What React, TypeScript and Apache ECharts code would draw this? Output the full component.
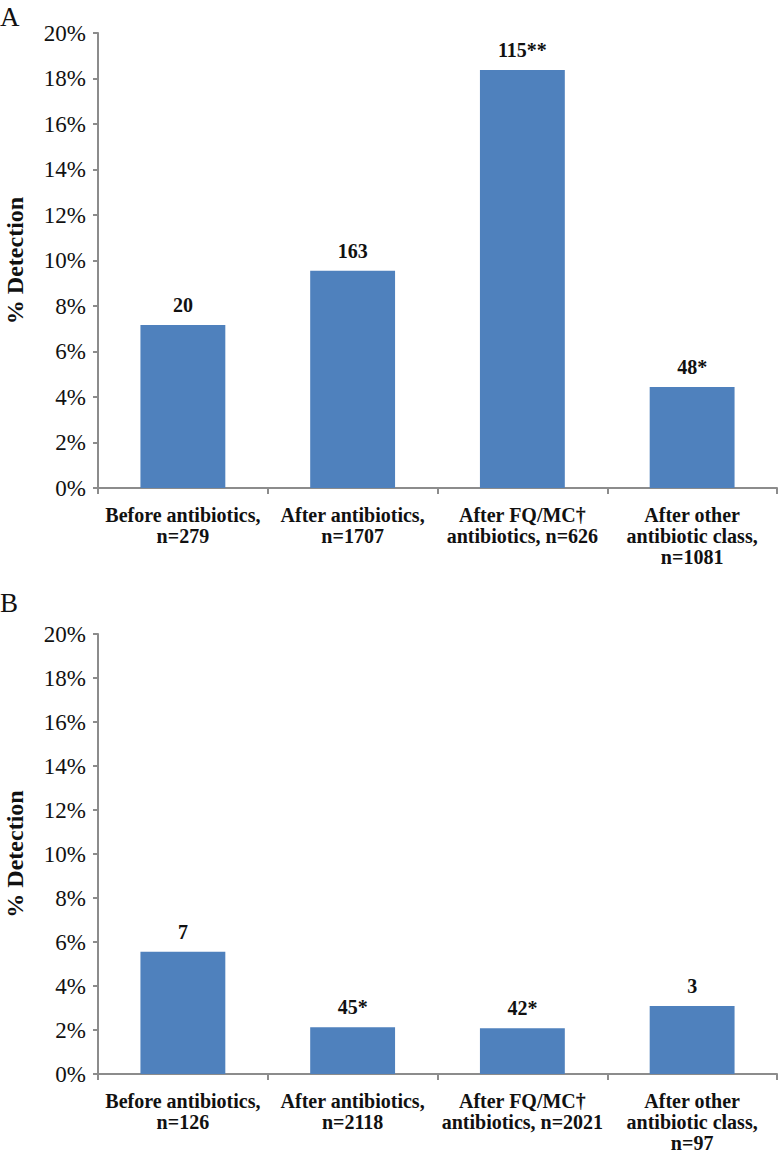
import React, { useEffect, useRef } from "react";
import * as echarts from "echarts";

const categoriesA = [
  "Before antibiotics,\nn=279",
  "After antibiotics,\nn=1707",
  "After FQ/MC†\nantibiotics, n=626",
  "After other\nantibiotic class,\nn=1081",
];
const valuesA = [7.17, 9.55, 18.37, 4.44];
const labelsA = ["20", "163", "115**", "48*"];

const categoriesB = [
  "Before antibiotics,\nn=126",
  "After antibiotics,\nn=2118",
  "After FQ/MC†\nantibiotics, n=2021",
  "After other\nantibiotic class,\nn=97",
];
const valuesB = [5.56, 2.12, 2.08, 3.09];
const labelsB = ["7", "45*", "42*", "3"];

const yTicks = { min: 0, max: 20, interval: 2 };

const FONT = "'Liberation Serif', 'DejaVu Serif', serif";
const AXIS_COLOR = "#8c8c8c";
const BAR_COLOR = "#4f81bd";

export default function App() {
  const ref = useRef<HTMLDivElement>(null);
  useEffect(() => {
    if (!ref.current) return;
    const chart = echarts.init(ref.current, null, { renderer: "svg" });
    const grids = [
      { left: 98, right: 3, top: 33, height: 455, containLabel: false, outerBoundsMode: "none" },
      { left: 98, right: 3, top: 634, height: 440, containLabel: false, outerBoundsMode: "none" },
    ];
    const cats = [categoriesA, categoriesB];
    const vals = [valuesA, valuesB];
    const labs = [labelsA, labelsB];
    chart.setOption({
      animation: false,
      backgroundColor: "#ffffff",
      textStyle: { fontFamily: FONT },
      grid: grids,
      xAxis: cats.map((c, i) => ({
        type: "category",
        gridIndex: i,
        data: c,
        axisLine: { lineStyle: { color: AXIS_COLOR, width: 2 } },
        axisTick: { show: true, length: 6, lineStyle: { color: AXIS_COLOR, width: 2 } },
        axisLabel: {
          interval: 0,
          color: "#111",
          fontFamily: FONT,
          fontWeight: "bold",
          fontSize: 20,
          lineHeight: 21,
          margin: 16,
        },
      })),
      yAxis: cats.map((_, i) => ({
        type: "value",
        gridIndex: i,
        min: yTicks.min,
        max: yTicks.max,
        interval: yTicks.interval,
        name: "% Detection",
        nameLocation: "middle",
        nameRotate: 90,
        nameGap: 71,
        nameTextStyle: { fontFamily: FONT, fontWeight: "bold", fontSize: 24, color: "#111" },
        splitLine: { show: false },
        axisLine: { show: true, lineStyle: { color: AXIS_COLOR, width: 2 } },
        axisTick: { show: true, length: 5, lineStyle: { color: AXIS_COLOR, width: 2 } },
        axisLabel: {
          formatter: (v: number) => `${v}%`,
          color: "#111",
          fontFamily: FONT,
          fontSize: 23,
          margin: 12,
        },
      })),
      series: vals.map((v, i) => ({
        type: "bar",
        xAxisIndex: i,
        yAxisIndex: i,
        data: v,
        barWidth: "50%",
        itemStyle: { color: BAR_COLOR },
        label: {
          show: true,
          position: "top",
          distance: 10,
          formatter: (p: any) => labs[i][p.dataIndex],
          fontFamily: FONT,
          fontWeight: "bold",
          fontSize: 20,
          color: "#111",
        },
      })),
      graphic: [
        { type: "text", left: 0, top: 3, style: { text: "A", fontFamily: FONT, fontSize: 27, fill: "#111" } },
        { type: "text", left: 0, top: 589, style: { text: "B", fontFamily: FONT, fontSize: 27, fill: "#111" } },
      ],
    });
    return () => chart.dispose();
  }, []);
  return (
    <div
      ref={ref}
      style={{ position: "absolute", left: 0, top: 0, width: 780, height: 1153 }}
    />
  );
}
